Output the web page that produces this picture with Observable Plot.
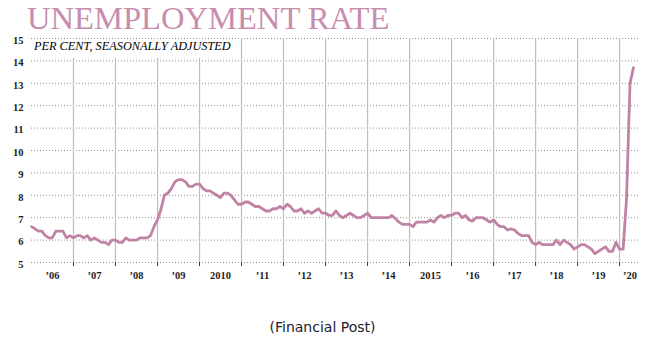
<!DOCTYPE html>
<html>
<head>
<meta charset="utf-8">
<script src="https://cdn.jsdelivr.net/npm/d3@7"></script>
<script src="https://cdn.jsdelivr.net/npm/@observablehq/plot@0.6"></script>
<style>
  html, body { margin: 0; padding: 0; background: #fff; }
  #wrap { position: relative; width: 648px; height: 352px; overflow: hidden; }
  #title { position: absolute; left: 27px; top: 2px; font-family: "Liberation Serif", serif; font-size: 32.6px; line-height: 1; color: #c78dad; white-space: nowrap; }
  #chart { position: absolute; left: 0; top: 34px; }
  #sub { position: absolute; left: 31px; top: 39px; padding: 1px 4px 6px 3px; background: #fff; font-family: "Liberation Serif", serif; font-style: italic; font-size: 12.3px; line-height: 1; color: #000; white-space: nowrap; }
  #cap { position: absolute; left: 0; width: 645px; top: 320px; text-align: center; font-family: "DejaVu Sans", sans-serif; font-size: 14px; line-height: 1; color: #1c1c2c; }
</style>
</head>
<body>
<div id="wrap">
  <div id="title">UNEMPLOYMENT RATE</div>
  <div id="chart"></div>
  <div id="sub">PER CENT, SEASONALLY ADJUSTED</div>
  <div id="cap">(Financial Post)</div>
</div>
<script>
// Monthly unemployment rate (per cent, seasonally adjusted), Jan 2006 – May 2020
const rate2006 = [6.6, 6.5, 6.4, 6.4, 6.2, 6.1, 6.1, 6.4, 6.4, 6.4, 6.1, 6.2];
const rate2007 = [6.1, 6.2, 6.2, 6.1, 6.2, 6.0, 6.1, 6.0, 5.9, 5.9, 5.8, 6.0];
const rate2008 = [6.0, 5.9, 5.9, 6.1, 6.0, 6.0, 6.0, 6.1, 6.1, 6.1, 6.2, 6.6];
const rate2009 = [6.9, 7.4, 8.0, 8.1, 8.3, 8.6, 8.7, 8.7, 8.6, 8.4, 8.4, 8.5];
const rate2010 = [8.5, 8.3, 8.2, 8.2, 8.1, 8.0, 7.9, 8.1, 8.1, 8.0, 7.8, 7.6];
const rate2011 = [7.6, 7.7, 7.7, 7.6, 7.5, 7.5, 7.4, 7.3, 7.3, 7.4, 7.4, 7.5];
const rate2012 = [7.4, 7.6, 7.5, 7.3, 7.3, 7.4, 7.2, 7.3, 7.2, 7.3, 7.4, 7.2];
const rate2013 = [7.2, 7.1, 7.1, 7.3, 7.1, 7.0, 7.1, 7.2, 7.1, 7.0, 7.0, 7.1];
const rate2014 = [7.2, 7.0, 7.0, 7.0, 7.0, 7.0, 7.0, 7.1, 6.95, 6.8, 6.7, 6.7];
const rate2015 = [6.7, 6.6, 6.8, 6.8, 6.8, 6.8, 6.9, 6.8, 7.0, 7.1, 7.0, 7.1];
const rate2016 = [7.1, 7.2, 7.2, 7.0, 7.1, 6.9, 6.85, 7.0, 7.0, 7.0, 6.9, 6.8];
const rate2017 = [6.9, 6.7, 6.6, 6.6, 6.45, 6.5, 6.45, 6.3, 6.2, 6.2, 6.2, 5.9];
const rate2018 = [5.8, 5.9, 5.8, 5.8, 5.8, 5.8, 6.0, 5.8, 6.0, 5.9, 5.8, 5.6];
const rate2019 = [5.7, 5.8, 5.8, 5.7, 5.6, 5.4, 5.5, 5.6, 5.7, 5.5, 5.5, 5.9];
const rate2020 = [5.6, 5.6, 7.8, 13.0, 13.7];

const yTicks = [5, 6, 7, 8, 9, 10, 11, 12, 13, 14, 15];
const yearLabels = ["\u201906", "\u201907", "\u201908", "\u201909", "2010", "\u201911", "\u201912",
  "\u201913", "\u201914", "2015", "\u201916", "\u201917", "\u201918", "\u201919", "\u201920"];
const firstYear = 2006;

const rates = [].concat(rate2006, rate2007, rate2008, rate2009, rate2010, rate2011, rate2012,
  rate2013, rate2014, rate2015, rate2016, rate2017, rate2018, rate2019, rate2020);
const start = new Date(Date.UTC(firstYear, 0, 1));
const end = new Date(Date.UTC(2020, 6, 1));
const data = rates.map((r, i) => ({ date: new Date(Date.UTC(firstYear, i, 1)), rate: r }));

const yearStarts = yearLabels.slice(1).map((_, i) => new Date(Date.UTC(firstYear + i + 1, 0, 1)));
const labelRecs = yearLabels.map((label, i) => {
  const a = new Date(Date.UTC(firstYear + i, 0, 1));
  const b = new Date(Math.min(+new Date(Date.UTC(firstYear + i + 1, 0, 1)), +end));
  return { date: new Date((+a + +b) / 2), label };
});

const lineColor = "#c082a5";
const tickFont = { fontFamily: "Liberation Serif, serif", fontSize: 10.5, fontWeight: "bold", fill: "#222" };

const chart = Plot.plot({
  width: 648,
  height: 250,
  marginLeft: 31,
  marginRight: 8,
  marginTop: 4,
  marginBottom: 22,
  x: { type: "utc", domain: [start, end] },
  y: { domain: [5, 15] },
  style: { background: "#fff", overflow: "visible" },
  marks: [
    Plot.ruleY(yTicks, { stroke: "#8f8f8f", strokeWidth: 1, strokeDasharray: "1,2" }),
    Plot.ruleX(yearStarts, { stroke: "#bdbdbd", strokeWidth: 1.2 }),
    Plot.axisX(yearStarts, { tickSize: 4, tickFormat: null, text: null, stroke: "#333", label: null }),
    Plot.text(labelRecs, { x: "date", text: "label", frameAnchor: "bottom", dy: 13, lineAnchor: "middle", ...tickFont }),
    Plot.axisY(yTicks, { tickSize: 0, tickPadding: 8, dy: 2, label: null, ...tickFont }),
    Plot.line(data, { x: "date", y: "rate", stroke: lineColor, strokeWidth: 2.8, strokeLinejoin: "round", strokeLinecap: "round" })
  ]
});
document.getElementById("chart").appendChild(chart);
</script>
</body>
</html>
